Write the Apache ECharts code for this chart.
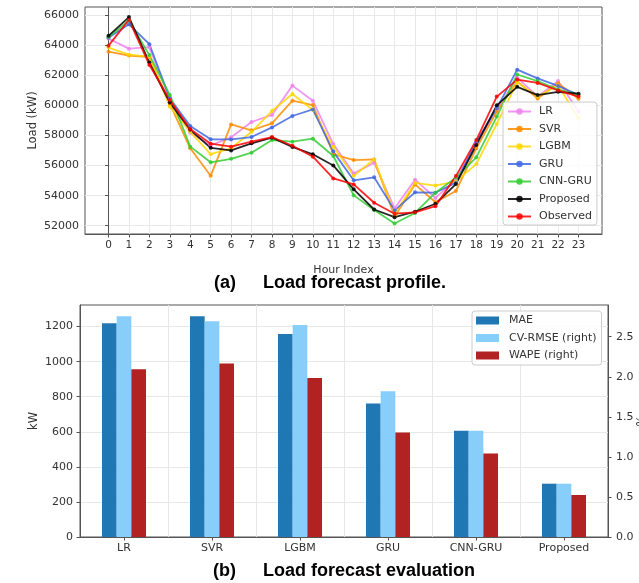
<!DOCTYPE html>
<html>
<head>
<meta charset="utf-8">
<script src="https://cdn.jsdelivr.net/npm/echarts@6/dist/echarts.min.js"></script>
<style>
  html, body { margin: 0; padding: 0; background: #fff; }
  #chart { width: 639px; height: 583px; }
</style>
</head>
<body>
<div id="chart"></div>
<script>
// (a) hourly load profile, kW
let hours = [0, 1, 2, 3, 4, 5, 6, 7, 8, 9, 10, 11, 12, 13, 14, 15, 16, 17, 18, 19, 20, 21, 22, 23];
let loadTicks = [52000, 54000, 56000, 58000, 60000, 62000, 64000, 66000];

let lrLoad       = [64450, 63780, 63880, 60400, 58180, 57350, 57880, 58900, 59370, 61320, 60320, 57430, 55480, 56190, 53160, 55060, 53850, 55050, 57480, 59700, 61850, 60600, 61620, 59600];
let svrLoad      = [63580, 63320, 63220, 60100, 57150, 55320, 58740, 58350, 58810, 60320, 60030, 56770, 56370, 56410, 52600, 54750, 53560, 54310, 57150, 59590, 61600, 60460, 61480, 60450];
let lgbmLoad     = [63850, 63380, 63250, 59920, 58250, 56760, 57150, 58250, 59630, 60760, 59700, 57260, 55330, 56410, 52820, 54850, 54670, 54950, 56100, 58770, 61550, 60600, 61350, 59150];
let gruLoad      = [64500, 65400, 64080, 60480, 58640, 57750, 57740, 57900, 58540, 59300, 59740, 56930, 55020, 55220, 53020, 54220, 54200, 54860, 57590, 59810, 62380, 61800, 61300, 60710];
let cnnGruLoad   = [64550, 65650, 63350, 60700, 57260, 56220, 56450, 56860, 57700, 57590, 57790, 56640, 54020, 53040, 52150, 52850, 54200, 55200, 56550, 59260, 62060, 61620, 61050, 60720];
let proposedLoad = [64630, 65880, 62850, 60190, 58380, 57180, 57010, 57480, 57860, 57240, 56750, 56010, 54420, 53080, 52570, 52930, 53460, 54770, 57370, 60010, 61240, 60690, 60910, 60780];
let observedLoad = [63980, 65690, 62700, 60360, 58440, 57460, 57260, 57590, 57900, 57320, 56590, 55150, 54750, 53530, 52800, 52890, 53300, 55300, 57700, 60590, 61720, 61500, 61000, 60590];

// (b) evaluation
let models = ['LR', 'SVR', 'LGBM', 'GRU', 'CNN-GRU', 'Proposed'];
let mae    = [1219, 1259, 1157, 761, 606, 304];
let cvRmse = [2.755, 2.693, 2.647, 1.82, 1.325, 0.665];
let wape   = [2.095, 2.165, 1.986, 1.304, 1.042, 0.524];
let kwTicks  = [0, 200, 400, 600, 800, 1000, 1200];
let pctTicks = [0, 0.5, 1.0, 1.5, 2.0, 2.5];

let tickFont = 'DejaVu Sans';
let spine = '#555';
let gridColor = '#e8e8e8';
let plain = function (v) { return String(v); };

let lineSeries = [
  ['LR', lrLoad, '#ee82ee'],
  ['SVR', svrLoad, '#ff8c00'],
  ['LGBM', lgbmLoad, '#ffd700'],
  ['GRU', gruLoad, '#4169e1'],
  ['CNN-GRU', cnnGruLoad, '#32cd32'],
  ['Proposed', proposedLoad, '#000000'],
  ['Observed', observedLoad, '#ff0000']
].map(function (s) {
  return {
    name: s[0],
    type: 'line',
    xAxisIndex: 0,
    yAxisIndex: 0,
    data: hours.map(function (h, i) { return [h, s[1][i]]; }),
    symbol: 'circle',
    symbolSize: 4,
    color: s[2],
    lineStyle: { width: 1.8, opacity: 0.85 },
    itemStyle: { opacity: 0.85 }
  };
});

let barSeries = [
  { name: 'MAE', type: 'bar', xAxisIndex: 1, yAxisIndex: 1, data: mae, color: '#1f77b4' },
  { name: 'CV-RMSE (right)', type: 'bar', xAxisIndex: 1, yAxisIndex: 2, data: cvRmse, color: '#87cefa' },
  { name: 'WAPE (right)', type: 'bar', xAxisIndex: 1, yAxisIndex: 2, data: wape, color: '#b22222' }
].map(function (s) {
  s.barWidth = '16.67%';
  s.barGap = '0%';
  return s;
});

let chart = echarts.init(document.getElementById('chart'));

let option = {
  animation: false,
  grid: [
    { left: 85, top: 7, width: 517, height: 227, show: true, borderColor: spine, borderWidth: 1, outerBoundsMode: 'none' },
    { left: 80, top: 305, width: 528, height: 232, show: true, borderColor: spine, borderWidth: 1, outerBoundsMode: 'none' }
  ],
  legend: [
    {
      data: lineSeries.map(function (s) { return s.name; }),
      orient: 'vertical',
      left: 503,
      top: 102,
      itemWidth: 23,
      itemHeight: 8,
      itemGap: 6.5,
      padding: [4, 5, 3, 4],
      backgroundColor: 'rgba(255,255,255,0.85)',
      borderColor: '#ccc',
      borderWidth: 1,
      borderRadius: 3,
      textStyle: { fontFamily: tickFont, fontSize: 11, color: '#333', padding: [0, 0, 0, 3] }
    },
    {
      data: barSeries.map(function (s) { return s.name; }),
      orient: 'vertical',
      left: 472,
      top: 311,
      icon: 'rect',
      itemWidth: 23,
      itemHeight: 8,
      itemGap: 6.5,
      padding: [4, 5, 4, 4],
      backgroundColor: 'rgba(255,255,255,0.85)',
      borderColor: '#ccc',
      borderWidth: 1,
      borderRadius: 3,
      textStyle: { fontFamily: tickFont, fontSize: 11, color: '#333', padding: [0, 0, 0, 5] }
    }
  ],
  xAxis: [
    {
      type: 'value',
      gridIndex: 0,
      min: -1.15,
      max: 24.15,
      name: 'Hour Index',
      nameLocation: 'middle',
      nameGap: 31,
      nameMoveOverlap: false,
      nameTextStyle: { fontFamily: tickFont, fontSize: 11, color: '#333' },
      axisLine: { show: true, onZero: false, lineStyle: { color: spine } },
      axisTick: { show: true, length: 3.5, lineStyle: { color: spine }, customValues: hours },
      axisLabel: { fontFamily: tickFont, fontSize: 10.5, color: '#333', margin: 6, customValues: hours },
      splitLine: { show: true, lineStyle: { color: gridColor, width: 1 } }
    },
    {
      type: 'category',
      gridIndex: 1,
      data: models,
      axisLine: { show: true, lineStyle: { color: spine } },
      axisTick: { show: true, alignWithLabel: true, length: 3.5, lineStyle: { color: spine } },
      axisLabel: { fontFamily: tickFont, fontSize: 11, color: '#333', margin: 6 },
      splitLine: { show: true, lineStyle: { color: gridColor, width: 1 } }
    }
  ],
  yAxis: [
    {
      type: 'value',
      gridIndex: 0,
      min: 51450,
      max: 66550,
      name: 'Load (kW)',
      nameLocation: 'middle',
      nameGap: 46,
      nameMoveOverlap: false,
      nameTextStyle: { fontFamily: tickFont, fontSize: 11.5, color: '#333' },
      axisLine: { show: true, lineStyle: { color: spine } },
      axisTick: { show: true, length: 3.5, lineStyle: { color: spine }, customValues: loadTicks },
      axisLabel: { fontFamily: tickFont, fontSize: 11, color: '#333', margin: 6, customValues: loadTicks, formatter: plain },
      splitLine: { show: true, lineStyle: { color: gridColor, width: 1 } }
    },
    {
      type: 'value',
      gridIndex: 1,
      min: 0,
      max: 1323,
      name: 'kW',
      nameLocation: 'middle',
      nameGap: 40,
      nameMoveOverlap: false,
      nameTextStyle: { fontFamily: tickFont, fontSize: 11.5, color: '#333' },
      axisLine: { show: true, lineStyle: { color: spine } },
      axisTick: { show: true, length: 3.5, lineStyle: { color: spine }, customValues: kwTicks },
      axisLabel: { fontFamily: tickFont, fontSize: 11, color: '#333', margin: 7, customValues: kwTicks, formatter: plain },
      splitLine: { show: true, lineStyle: { color: gridColor, width: 1 } }
    },
    {
      type: 'value',
      gridIndex: 1,
      position: 'right',
      min: 0,
      max: 2.896,
      name: '%',
      nameLocation: 'middle',
      nameRotate: 90,
      nameGap: 28,
      nameMoveOverlap: false,
      nameTextStyle: { fontFamily: tickFont, fontSize: 11.5, color: '#333' },
      axisLine: { show: true, lineStyle: { color: spine } },
      axisTick: { show: true, length: 3.5, lineStyle: { color: spine }, customValues: pctTicks },
      axisLabel: {
        fontFamily: tickFont, fontSize: 11, color: '#333', margin: 8, customValues: pctTicks,
        formatter: function (v) { return v.toFixed(1); }
      },
      splitLine: { show: false }
    }
  ],
  graphic: [
    { type: 'text', left: 214, top: 274, style: { text: '(a)', font: 'bold 18px "Liberation Sans"', fill: '#000' } },
    { type: 'text', left: 263, top: 274, style: { text: 'Load forecast profile.', font: 'bold 18px "Liberation Sans"', fill: '#000' } },
    { type: 'text', left: 213, top: 562, style: { text: '(b)', font: 'bold 18px "Liberation Sans"', fill: '#000' } },
    { type: 'text', left: 263, top: 562, style: { text: 'Load forecast evaluation', font: 'bold 18px "Liberation Sans"', fill: '#000' } }
  ],
  series: lineSeries.concat(barSeries)
};

chart.setOption(option);
</script>
</body>
</html>
